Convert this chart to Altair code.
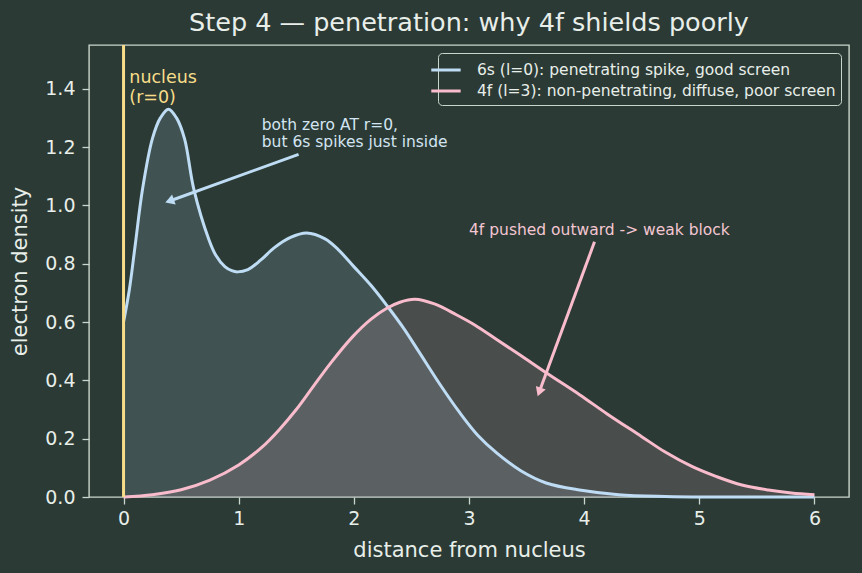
import math
import altair as alt
import pandas as pd

# Radial density samples for the two orbitals
r_6s = [0.00, 0.05, 0.10, 0.165, 0.25, 0.32, 0.39, 0.46, 0.53, 0.61, 0.74, 0.80,
        0.88, 0.94, 0.99, 1.08, 1.19, 1.31, 1.45, 1.59, 1.75, 1.86, 2.00, 2.15,
        2.29, 2.43, 2.57, 2.75, 2.92, 3.08, 3.24, 3.45, 3.67, 3.96, 4.30, 4.70,
        5.20, 6.00]
d_6s = [0.60, 0.71, 0.86, 1.056, 1.228, 1.30, 1.33, 1.30, 1.228, 1.056, 0.884, 0.83,
        0.79, 0.776, 0.772, 0.78, 0.812, 0.855, 0.89, 0.905, 0.885, 0.85, 0.79, 0.725,
        0.655, 0.58, 0.495, 0.385, 0.289, 0.21, 0.151, 0.09, 0.048, 0.024, 0.008, 0.002,
        0.0, 0.0]

r_4f = [0.00, 0.25, 0.50, 0.75, 1.00, 1.20, 1.35, 1.50, 1.64, 1.80, 1.99, 2.15,
        2.29, 2.40, 2.53, 2.70, 2.89, 3.05, 3.24, 3.45, 3.67, 3.96, 4.20, 4.50,
        4.70, 4.94, 5.15, 5.37, 5.60, 5.80, 6.00]
d_4f = [0.0, 0.008, 0.025, 0.058, 0.11, 0.17, 0.23, 0.30, 0.375, 0.46, 0.55, 0.61,
        0.648, 0.668, 0.678, 0.662, 0.625, 0.59, 0.54, 0.485, 0.426, 0.351, 0.285, 0.207,
        0.155, 0.104, 0.07, 0.041, 0.024, 0.014, 0.008]

series_labels = ["6s (l=0): penetrating spike, good screen",
                 "4f (l=3): non-penetrating, diffuse, poor screen"]

# Annotations: text anchors and arrows (tail -> head)
note_text = ["both zero AT r=0,\nbut 6s spikes just inside", "4f pushed outward -> weak block"]
note_x = [1.2, 3.0]
note_y = [1.2, 0.9]
arrow_x0 = [1.52, 4.09]
arrow_y0 = [1.175, 0.875]
arrow_x1 = [0.40, 3.61]
arrow_y1 = [1.015, 0.36]

nucleus_x = [0.0]
nucleus_text = ["nucleus\n(r=0)"]
nucleus_text_x = [0.05]
nucleus_text_y = [1.35]

x_ticks = [0, 1, 2, 3, 4, 5, 6]
y_ticks = [0.0, 0.2, 0.4, 0.6, 0.8, 1.0, 1.2, 1.4]

# Styling
BG = "#2b3a34"
FG = "#e8eee9"
SPINE = "#c9d6cd"
BLUE = "#bfdcf5"
PINK = "#f9bccd"
GOLD = "#f7dd8a"
FONT = "DejaVu Sans"

W, H = 760, 452
X_DOM = [-0.3, 6.3]
Y_DOM = [0.0, 1.55]

xs = alt.Scale(domain=X_DOM, nice=False, zero=False)
ys = alt.Scale(domain=Y_DOM, nice=False)

x_axis = alt.Axis(values=x_ticks, format="d", title="distance from nucleus")
y_axis = alt.Axis(values=y_ticks, format=".1f", title="electron density")

df_6s = pd.DataFrame({"r": r_6s, "d": d_6s, "s": series_labels[0]})
df_4f = pd.DataFrame({"r": r_4f, "d": d_4f, "s": series_labels[1]})
df_lines = pd.concat([df_6s, df_4f], ignore_index=True)

X = alt.X("r:Q", scale=xs, axis=x_axis)
Y = alt.Y("d:Q", scale=ys, axis=y_axis)
CURVE = "catmull-rom"

area_6s = alt.Chart(df_6s).mark_area(color=BLUE, opacity=0.15, interpolate=CURVE).encode(x=X, y=Y)
area_4f = alt.Chart(df_4f).mark_area(color=PINK, opacity=0.15, interpolate=CURVE).encode(x=X, y=Y)

# legend swatch: a short horizontal stroke, longer than the row is tall
SWATCH = "M-2.26,0H0.54"

lines = alt.Chart(df_lines).mark_line(strokeWidth=3, interpolate=CURVE).encode(
    x=X, y=Y,
    color=alt.Color(
        "s:N",
        scale=alt.Scale(domain=series_labels, range=[BLUE, PINK]),
        legend=alt.Legend(
            title=None, orient="top-right", offset=8,
            fillColor=BG, strokeColor=SPINE, cornerRadius=4, padding=5,
            labelFont=FONT, labelFontSize=15.5, labelColor=FG, labelLimit=600,
            labelOffset=10,
            symbolType=SWATCH, symbolStrokeWidth=3, symbolSize=441,
            rowPadding=0,
        ),
    ),
)

nucleus = alt.Chart(pd.DataFrame({"r": nucleus_x})).mark_rule(color=GOLD, strokeWidth=3).encode(
    x=alt.X("r:Q", scale=xs)
)
nucleus_lbl = alt.Chart(pd.DataFrame({"r": nucleus_text_x, "d": nucleus_text_y, "t": nucleus_text})).mark_text(
    align="left", baseline="bottom", lineBreak="\n", font=FONT, fontSize=17.5, color=GOLD,
    lineHeight=20, dy=-16
).encode(x=alt.X("r:Q", scale=xs), y=alt.Y("d:Q", scale=ys), text="t:N")

notes = pd.DataFrame({"x": note_x, "y": note_y, "t": note_text})
note1 = alt.Chart(notes.iloc[[0]]).mark_text(
    align="left", baseline="alphabetic", lineBreak="\n", font=FONT, fontSize=15.5, color="#d3e5f2",
    lineHeight=17.5, dy=-17.5
).encode(x=alt.X("x:Q", scale=xs), y=alt.Y("y:Q", scale=ys), text="t:N")
note2 = alt.Chart(notes.iloc[[1]]).mark_text(
    align="left", baseline="alphabetic", font=FONT, fontSize=15.5, color="#f3c6d2"
).encode(x=alt.X("x:Q", scale=xs), y=alt.Y("y:Q", scale=ys), text="t:N")

# arrow heads point along the shaft in screen space
kx = W / (X_DOM[1] - X_DOM[0])
ky = H / (Y_DOM[1] - Y_DOM[0])
angles = []
for x0, y0, x1, y1 in zip(arrow_x0, arrow_y0, arrow_x1, arrow_y1):
    dx = (x1 - x0) * kx
    dy = -(y1 - y0) * ky
    angles.append(math.degrees(math.atan2(dx, -dy)) % 360)

arrow_ids = ["a", "b"]
shaft_df = pd.DataFrame({
    "x": arrow_x0 + arrow_x1,
    "y": arrow_y0 + arrow_y1,
    "c": arrow_ids + arrow_ids,
    "o": [0, 0, 1, 1],
})
head_df = pd.DataFrame({"x": arrow_x1, "y": arrow_y1, "ang": angles, "c": arrow_ids})
arrow_color = alt.Color("c:N", scale=alt.Scale(domain=arrow_ids, range=[BLUE, PINK]), legend=None)

shafts = alt.Chart(shaft_df).mark_line(strokeWidth=3).encode(
    x=alt.X("x:Q", scale=xs), y=alt.Y("y:Q", scale=ys),
    color=arrow_color, detail="c:N", order="o:Q",
)
heads = alt.Chart(head_df).mark_point(shape="triangle-up", filled=True, size=110, opacity=1).encode(
    x=alt.X("x:Q", scale=xs), y=alt.Y("y:Q", scale=ys),
    angle=alt.Angle("ang:Q", scale=None), color=arrow_color,
)

chart = alt.layer(
    area_6s, area_4f, lines, nucleus, nucleus_lbl, note1, note2, shafts, heads
).resolve_scale(color="independent").properties(
    width=W, height=H,
    padding={"left": 89, "top": 45, "right": 13, "bottom": 76},
    autosize=alt.AutoSizeParams(type="none"),
    background=BG,
    title=alt.Title("Step 4 — penetration: why 4f shields poorly", font=FONT, fontSize=25.5,
                    fontWeight="normal", color=FG, offset=7, anchor="middle"),
).configure_view(
    fill=BG, stroke=SPINE, strokeWidth=1.4,
).configure_axis(
    grid=False, domain=False,
    labelFont=FONT, labelFontSize=19, labelColor=FG,
    titleFont=FONT, titleFontSize=21, titleFontWeight="normal", titleColor=FG,
    tickColor=SPINE, tickSize=7, tickWidth=1.3,
).configure_axisX(titlePadding=11, labelPadding=5).configure_axisY(titlePadding=14, labelPadding=7)

chart.save("out.html", embed_options={"renderer": "svg", "actions": False})
